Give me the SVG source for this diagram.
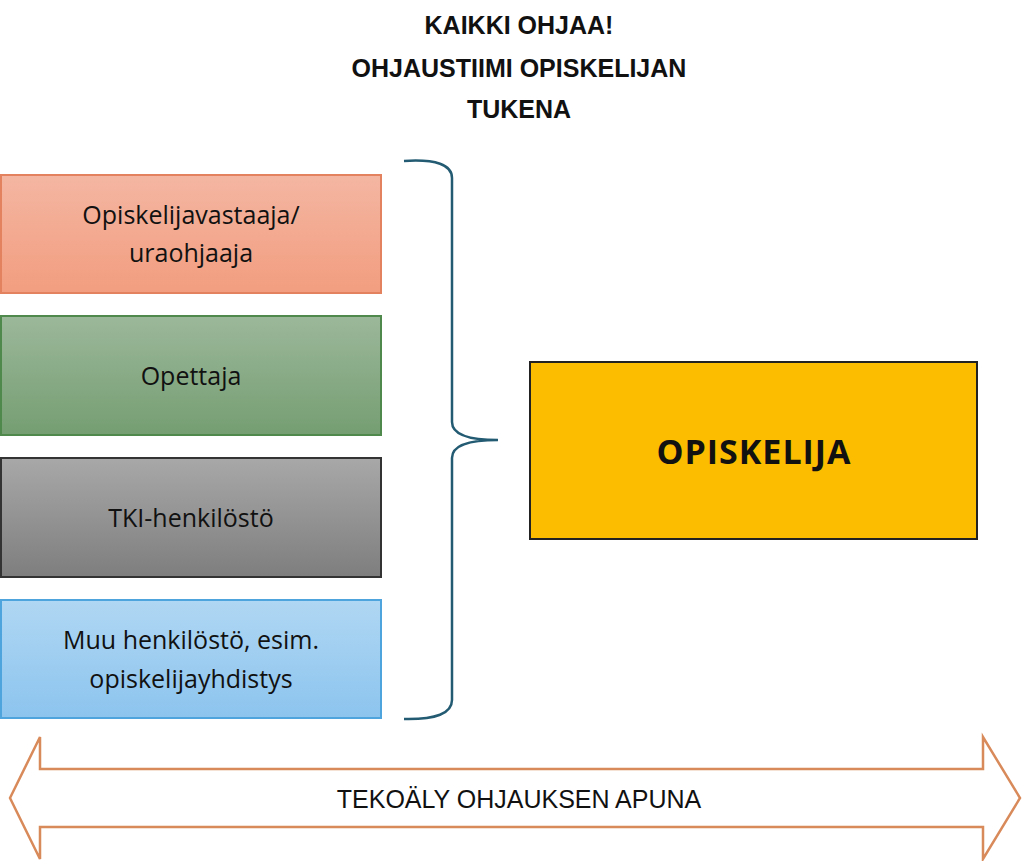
<svg xmlns="http://www.w3.org/2000/svg" width="1024" height="861" viewBox="0 0 1024 861">
<style>
.t{font-family:"Open Sans","Liberation Sans",sans-serif;font-size:25px;fill:#111;text-anchor:middle}
.h{font-family:"Liberation Sans",sans-serif;font-weight:bold;font-size:25px;fill:#111;text-anchor:middle}
.b{stroke-width:2}
</style>
<defs>
<linearGradient id="g1" x1="0" y1="0" x2="0" y2="1"><stop offset="0" stop-color="#f4b6a2"/><stop offset="1" stop-color="#f29d7f"/></linearGradient>
<linearGradient id="g2" x1="0" y1="0" x2="0" y2="1"><stop offset="0" stop-color="#9cb89a"/><stop offset="1" stop-color="#759e72"/></linearGradient>
<linearGradient id="g3" x1="0" y1="0" x2="0" y2="1"><stop offset="0" stop-color="#a8a8a8"/><stop offset="1" stop-color="#7e7e7e"/></linearGradient>
<linearGradient id="g4" x1="0" y1="0" x2="0" y2="1"><stop offset="0" stop-color="#b0d7f3"/><stop offset="1" stop-color="#8cc4ee"/></linearGradient>
</defs>
<g id="title">
<text class="h" x="519" y="34">KAIKKI OHJAA!</text>
<text class="h" x="519" y="77">OHJAUSTIIMI OPISKELIJAN</text>
<text class="h" x="519" y="118">TUKENA</text>
</g>
<g id="n1"><rect class="b" x="1" y="175" width="380" height="118" fill="url(#g1)" stroke="#e2825e"/>
<text class="t" x="191" y="224">Opiskelijavastaaja/</text><text class="t" x="191" y="262">uraohjaaja</text></g>
<g id="n2"><rect class="b" x="1" y="316" width="380" height="119" fill="url(#g2)" stroke="#4f8a4c"/>
<text class="t" x="191" y="385">Opettaja</text></g>
<g id="n3"><rect class="b" x="1" y="458" width="380" height="119" fill="url(#g3)" stroke="#333"/>
<text class="t" x="191" y="527">TKI-henkilöstö</text></g>
<g id="n4"><rect class="b" x="1" y="600" width="380" height="118" fill="url(#g4)" stroke="#4ea4dc"/>
<text class="t" x="191" y="649">Muu henkilöstö, esim.</text><text class="t" x="191" y="688">opiskelijayhdistys</text></g>
<g id="n5"><rect class="b" x="530" y="362" width="447" height="177" fill="#fcbd00" stroke="#222"/>
<text class="h" x="754" y="464" style="font-size:34px;font-family:'Open Sans','Liberation Sans',sans-serif;letter-spacing:1px">OPISKELIJA</text></g>
<g id="connectors">
<path d="M404 161 Q452 158 452 178 L452 422 Q452 440 498 440 Q452 440 452 458 L452 700 Q452 720 404 719" fill="none" stroke="#235b73" stroke-width="2.5"/>
<path d="M10 798 L40 737 L40 769 L983 769 L983 737 L1020 798 L983 859 L983 827 L40 827 L40 859 Z" fill="#fff" stroke="#d98a5a" stroke-width="2.5" stroke-linejoin="miter" transform="translate(0,0)"/>
<text x="519" y="808" style="font-family:'Liberation Sans',sans-serif;font-size:25px;fill:#111;text-anchor:middle">TEKOÄLY OHJAUKSEN APUNA</text>
</g>
</svg>
